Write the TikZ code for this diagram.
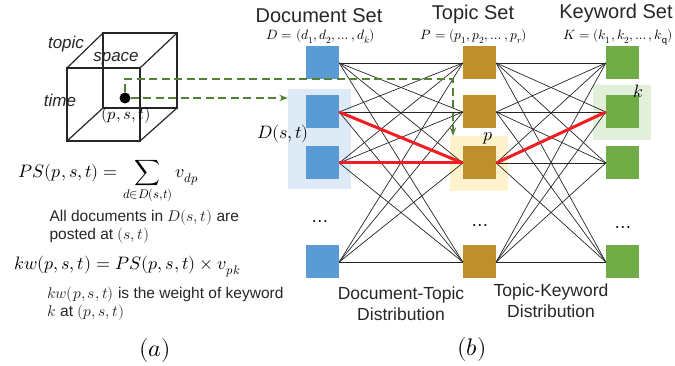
\documentclass[tikz,border=0pt]{standalone}
\usepackage{fontspec}
\usepackage{unicode-math}
\setmainfont{Liberation Sans}
\setmathfont{Latin Modern Math}
\usetikzlibrary{arrows.meta}

\definecolor{docblue}{HTML}{5B9BD5}
\definecolor{topicgold}{HTML}{BF8F2D}
\definecolor{kwgreen}{HTML}{70AD47}
\definecolor{hlblue}{HTML}{DEEBF7}
\definecolor{hlgold}{HTML}{FFF2CC}
\definecolor{hlgreen}{HTML}{E2EFDA}
\definecolor{flowgreen}{HTML}{548235}
\definecolor{hotred}{HTML}{F01E23}

\begin{document}
\begin{tikzpicture}[x=1pt, y=-1pt, >=Stealth,
	setbox/.style={minimum size=33pt, inner sep=0pt},
	focus/.style={inner sep=0pt},
	link/.style={line width=0.7pt, black!85},
	hot/.style={line width=3pt, hotred},
	flow/.style={dash pattern=on 8pt off 4.5pt, line width=1.2pt, flowgreen},
	cube/.style={line width=1.2pt, black!85},
	title/.style={font=\fontsize{20}{22}\selectfont, text=black!85},
	sub/.style={font=\fontsize{13.5}{15}\selectfont},
	body/.style={font=\fontsize{15.5}{18.5}\selectfont, align=left, text=black!85},
	eq/.style={font=\fontsize{18}{21}\selectfont},
	axis/.style={font=\itshape\fontsize{17}{20}\selectfont, text=black!85},
	dist/.style={font=\fontsize{17.5}{21}\selectfont, align=center, text=black!85}]
	\useasboundingbox (0,0) rectangle (675,366);

	% (a) space-time-topic cube
	\draw[cube] (67,68) rectangle (140,141);
	\draw[cube] (103,33) rectangle (177,108);
	\draw[cube] (67,68) -- (103,33) (140,68) -- (177,33) (67,141) -- (103,108) (140,141) -- (177,108);
	\node[axis] (ltopic) at (66,44) {topic};
	\node[axis] (lspace) at (116,59) {space};
	\node[axis] (ltime) at (60,100) {time};
	\node[circle, fill=black, minimum size=11pt, inner sep=0pt] (pt) at (125,98) {};
	\node[font=\fontsize{16.5}{19}\selectfont] (lpt) at (126,115) {$(p,s,t)$};

	% formulas
	\node[eq, anchor=base west] (fps) at (15,178) {$PS(p,s,t) = \displaystyle\sum_{d\in D(s,t)} v_{dp}$};
	\node[body, anchor=north west] (nps) at (46,206) {All documents in $D(s,t)$ are\\posted at $(s,t)$};
	\node[eq, anchor=base west] (fkw) at (11,270) {$kw(p,s,t) = PS(p,s,t) \times v_{pk}$};
	\node[body, anchor=north west] (nkw) at (44,283) {$kw(p,s,t)$ is the weight of keyword\\$k$ at $(p,s,t)$};
	\node[font=\fontsize{24}{26}\selectfont] (capa) at (155,350) {$(a)$};

	% (b) highlights
	\node[focus, fill=hlblue, minimum width=63pt, minimum height=100pt] (docfocus) at (319.5,139) {};
	\node[focus, fill=hlgold, minimum width=58pt, minimum height=55pt] (topicfocus) at (479,163.5) {};
	\node[focus, fill=hlgreen, minimum width=58pt, minimum height=55pt] (kwfocus) at (622,112.5) {};

	% the three sets
	\foreach \i/\y in {1/63,2/112,3/163,4/262} {
		\node[setbox, fill=docblue] (d\i) at (322.5,\y) {};
		\node[setbox, fill=topicgold] (t\i) at (479.5,\y) {};
		\node[setbox, fill=kwgreen] (k\i) at (622.5,\y) {};
	}
	\foreach \i in {1,...,4}
		\foreach \j in {1,...,4} {
			\draw[link] (d\i.east) -- (t\j.west);
			\draw[link] (t\i.east) -- (k\j.west);
		}
	\draw[hot] (d2.east) -- (t3.west);
	\draw[hot] (d3.east) -- (t3.west);
	\draw[hot] (t3.east) -- (k2.west);

	% projection of the point
	\draw[flow, ->] (pt.east) -- (pt.east -| docfocus.west);
	\coordinate (turn) at (453,79);
	\draw[flow, ->] (pt.north) |- (turn) -- (turn |- topicfocus.north);

	\node[font=\fontsize{20}{22}\selectfont] (ddots) at (320,223) {$\cdots$};
	\node[font=\fontsize{20}{22}\selectfont] (tdots) at (480,227) {$\cdots$};
	\node[font=\fontsize{20}{22}\selectfont] (kdots) at (623,229) {$\cdots$};

	\node[eq] (lds) at (283,134) {$D(s,t)$};
	\node[eq] (lp) at (488,138) {$p$};
	\node[eq] (lk) at (638,91) {$k$};

	% titles
	\node[title, anchor=base] (tdoc) at (319,23) {Document Set};
	\node[title, anchor=base] (ttopic) at (473,20) {Topic Set};
	\node[title, anchor=base] (tkw) at (616,19) {Keyword Set};
	\node[sub, anchor=base] (sdoc) at (321,40) {$D = (d_1, d_2, \dots, d_k)$};
	\node[sub, anchor=base] (stopic) at (474,40) {$P = (p_1, p_2, \dots, p_r)$};
	\node[sub, anchor=base] (skw) at (618,40) {$K = (k_1, k_2, \dots, k_{\mathrm{q}})$};

	\node[dist] (dtd) at (401,304) {Document-Topic\\Distribution};
	\node[dist] (dtk) at (551,301) {Topic-Keyword\\Distribution};
	\node[font=\fontsize{24}{26}\selectfont] (capb) at (472,349) {$(b)$};
\end{tikzpicture}
\end{document}
